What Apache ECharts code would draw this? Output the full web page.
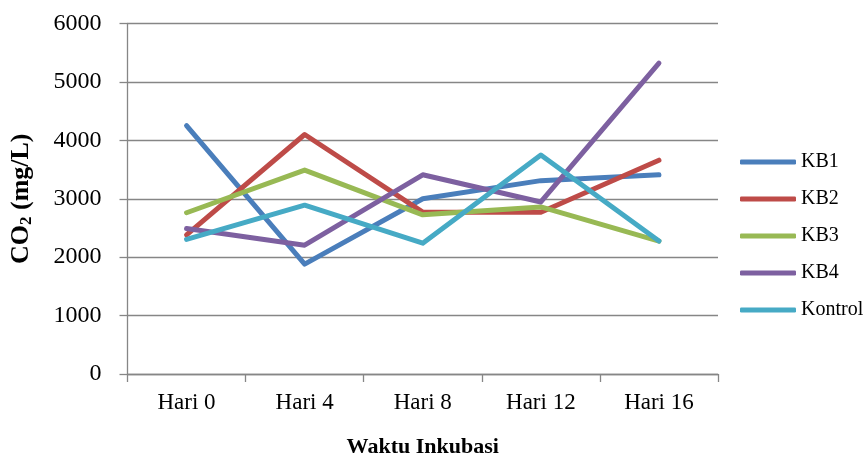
<!DOCTYPE html>
<html>
<head>
<meta charset="utf-8">
<script src="https://cdn.jsdelivr.net/npm/echarts@6/dist/echarts.min.js"></script>
<style>
  html, body { margin: 0; padding: 0; background: #fff; }
  #chart { width: 865px; height: 463px; }
</style>
</head>
<body>
<div id="chart"></div>
<script>
// kategori waktu inkubasi
var categories = ['Hari 0', 'Hari 4', 'Hari 8', 'Hari 12', 'Hari 16'];
// nilai CO2 (mg/L) per perlakuan
var kb1 = [4250, 1880, 3000, 3310, 3410];
var kb2 = [2380, 4100, 2770, 2770, 3660];
var kb3 = [2760, 3490, 2725, 2860, 2275];
var kb4 = [2490, 2205, 3410, 2945, 5320];
var kontrol = [2305, 2890, 2240, 3750, 2275];
var seriesNames = ['KB1', 'KB2', 'KB3', 'KB4', 'Kontrol'];
var seriesColors = ['#4A7EBB', '#BE4B48', '#98B954', '#7D60A0', '#46AAC5'];
var yTicks = [0, 1000, 2000, 3000, 4000, 5000, 6000];

var chart = echarts.init(document.getElementById('chart'));
var font = '"Liberation Serif", "Times New Roman", serif';
var gray = '#868686';

function makeLine(name, data, color) {
    return {
        name: name,
        type: 'line',
        data: data,
        symbol: 'none',
        color: color,
        lineStyle: { width: 5, color: color, cap: 'round', join: 'round' }
    };
}

var option = {
    animation: false,
    backgroundColor: '#fff',
    grid: { left: 126, right: 147, top: 23.5, bottom: 88 },
    legend: {
        orient: 'vertical',
        left: 735,
        top: 147,
        icon: 'roundRect',
        itemWidth: 56,
        itemHeight: 5,
        itemGap: 17,
        textStyle: { fontFamily: font, fontSize: 20, color: '#000' },
        data: seriesNames
    },
    xAxis: {
        type: 'category',
        data: categories,
        boundaryGap: true,
        name: 'Waktu Inkubasi',
        nameLocation: 'middle',
        nameGap: 62,
        nameTextStyle: { fontFamily: font, fontSize: 22, fontWeight: 'bold', color: '#000' },
        axisLine: { lineStyle: { color: gray, width: 1.3 } },
        axisTick: { show: true, length: 8, alignWithLabel: false, lineStyle: { color: gray, width: 1.3 } },
        axisLabel: { fontFamily: font, fontSize: 23, color: '#000', margin: 17 },
        splitLine: { show: false }
    },
    yAxis: {
        type: 'value',
        min: yTicks[0],
        max: yTicks[yTicks.length - 1],
        interval: 1000,
        name: '{a|CO}{b|2}{a| (mg/L)}',
        nameLocation: 'middle',
        nameGap: 92,
        nameTextStyle: {
            color: '#000',
            rich: {
                a: { fontFamily: font, fontSize: 26, fontWeight: 'bold', color: '#000' },
                b: { fontFamily: font, fontSize: 17, fontWeight: 'bold', color: '#000', padding: [12, 0, 0, 0] }
            }
        },
        axisLine: { show: true, lineStyle: { color: gray, width: 1.3 } },
        axisTick: { show: true, length: 8, lineStyle: { color: gray, width: 1.3 } },
        axisLabel: {
            fontFamily: font, fontSize: 24, color: '#000', margin: 26,
            formatter: function (v) { return String(v); }
        },
        splitLine: { show: true, lineStyle: { color: gray, width: 1.3 } }
    },
    series: [
        makeLine(seriesNames[0], kb1, seriesColors[0]),
        makeLine(seriesNames[1], kb2, seriesColors[1]),
        makeLine(seriesNames[2], kb3, seriesColors[2]),
        makeLine(seriesNames[3], kb4, seriesColors[3]),
        makeLine(seriesNames[4], kontrol, seriesColors[4])
    ]
};

chart.setOption(option);
</script>
</body>
</html>
